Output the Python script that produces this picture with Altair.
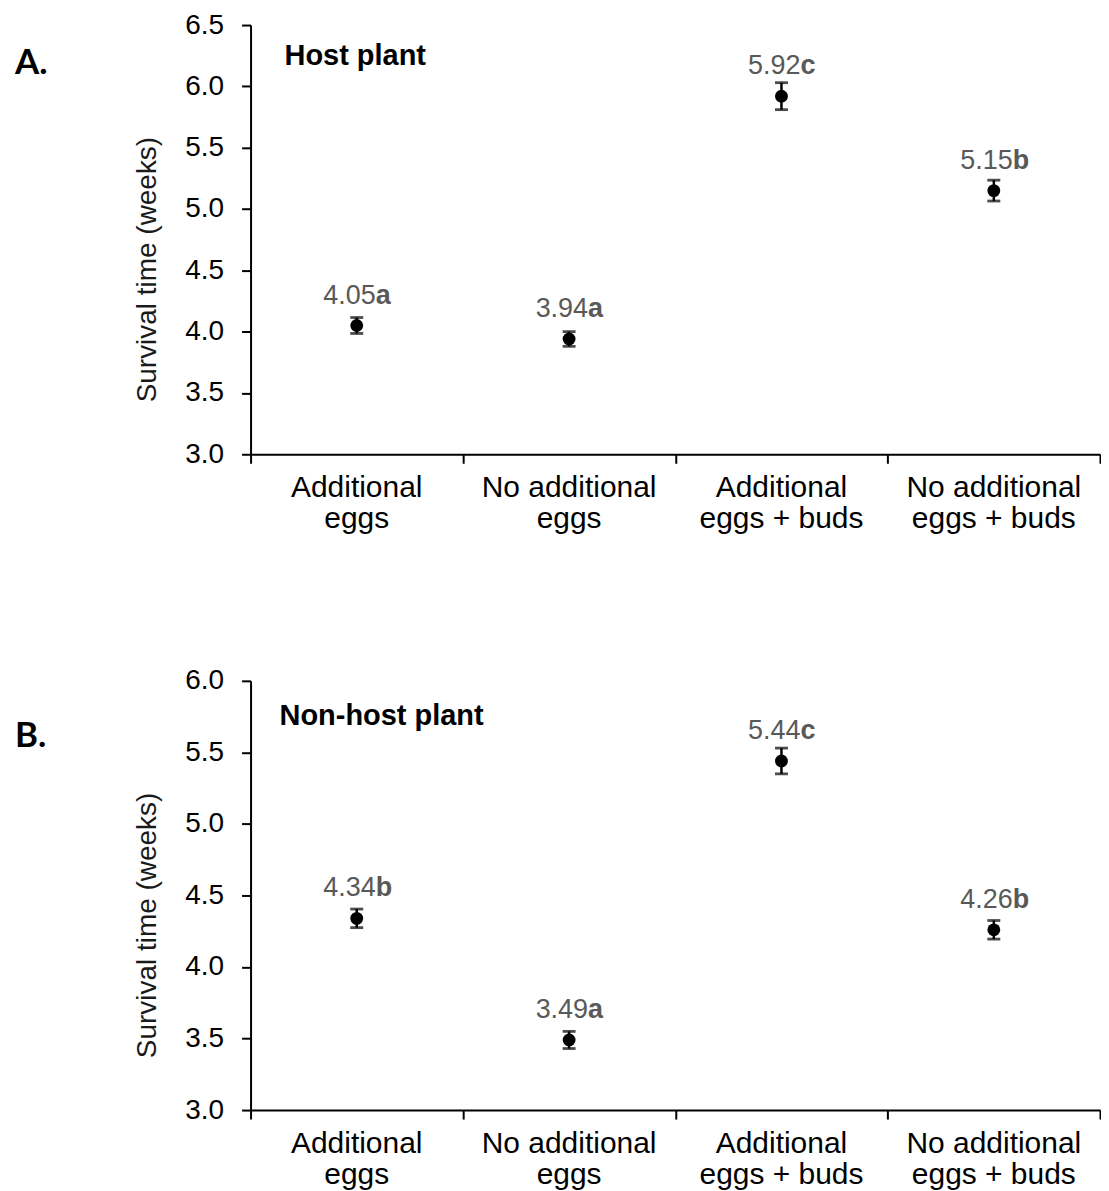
import altair as alt
import pandas as pd

categories = ["Additional eggs", "No additional eggs",
              "Additional eggs + buds", "No additional eggs + buds"]
label_line1 = ["Additional", "No additional", "Additional", "No additional"]
label_line2 = ["eggs", "eggs", "eggs + buds", "eggs + buds"]

host_means = [4.05, 3.94, 5.92, 5.15]
host_errs = [0.065, 0.06, 0.11, 0.085]
host_letters = ["a", "a", "c", "b"]
host_ticks = [3.0, 3.5, 4.0, 4.5, 5.0, 5.5, 6.0, 6.5]

nonhost_means = [4.34, 3.49, 5.44, 4.26]
nonhost_errs = [0.065, 0.06, 0.09, 0.065]
nonhost_letters = ["b", "a", "c", "b"]
nonhost_ticks = [3.0, 3.5, 4.0, 4.5, 5.0, 5.5, 6.0]

y_title = "Survival time (weeks)"

FONT = "Liberation Sans"
W, H = 851, 430


def panel(means, errs, letters, ticks, title, tag, title_pos, tag_y, line_h):
    df = pd.DataFrame({"cat": categories, "mean": means, "err": errs, "letter": letters,
                       "l1": label_line1, "l2": label_line2})
    df["lo"] = df["mean"] - df["err"]
    df["hi"] = df["mean"] + df["err"]
    df["num"] = [f"{m:.2f}" for m in means]

    xaxis = alt.Axis(
        title=None, labels=False, tickSize=9, tickWidth=2,
        tickColor="black", domainColor="black", domainWidth=2, tickBand="extent",
        grid=False,
    )
    xenc = alt.X("cat:N", sort=categories,
                 scale=alt.Scale(type="band", paddingInner=0, paddingOuter=0), axis=xaxis)
    yscale = alt.Scale(domain=[ticks[0], ticks[-1]], nice=False, zero=False)
    yaxis = alt.Axis(
        values=ticks, format=".1f", title=None, grid=False,
        labelFontSize=28, labelFont=FONT, labelColor="black", labelPadding=18,
        tickSize=9, tickWidth=2, tickColor="black", domainColor="black", domainWidth=2,
    )

    base = alt.Chart(df)
    rule = base.mark_rule(color="black", strokeWidth=2.5).encode(
        x=xenc, y=alt.Y("lo:Q", scale=yscale, axis=yaxis), y2="hi:Q")
    cap_lo = base.mark_tick(color="black", size=13, thickness=2.8).encode(
        x=xenc, y=alt.Y("lo:Q", scale=yscale, axis=yaxis))
    cap_hi = base.mark_tick(color="black", size=13, thickness=2.8).encode(
        x=xenc, y=alt.Y("hi:Q", scale=yscale, axis=yaxis))
    pts = base.mark_circle(color="black", size=165, opacity=1).encode(
        x=xenc, y=alt.Y("mean:Q", scale=yscale, axis=yaxis))
    num = base.mark_text(align="right", baseline="alphabetic", dx=19, dy=-22,
                         fontSize=27, font=FONT, color="#595959").encode(
        x=xenc, y=alt.Y("mean:Q", scale=yscale, axis=yaxis), text="num:N")
    let = base.mark_text(align="left", baseline="alphabetic", dx=19, dy=-22,
                         fontSize=27, font=FONT, fontWeight="bold", color="#595959").encode(
        x=xenc, y=alt.Y("mean:Q", scale=yscale, axis=yaxis), text="letter:N")
    lab1 = base.mark_text(align="center", baseline="alphabetic", fontSize=30, font=FONT,
                          color="black").encode(x=xenc, y=alt.value(H + 43), text="l1:N")
    lab2 = base.mark_text(align="center", baseline="alphabetic", fontSize=30, font=FONT,
                          color="black").encode(x=xenc, y=alt.value(H + 43 + line_h), text="l2:N")

    ttl = alt.Chart(pd.DataFrame({"t": [title]})).mark_text(
        align="left", baseline="alphabetic", fontSize=29, font=FONT,
        fontWeight="bold", color="black").encode(
        text="t:N", x=alt.value(title_pos[0]), y=alt.value(title_pos[1]))
    tg = alt.Chart(pd.DataFrame({"t": [tag]})).mark_text(
        align="left", baseline="alphabetic", fontSize=35, font="Lato",
        fontWeight="bold", color="black").encode(
        text="t:N", x=alt.value(-236), y=alt.value(tag_y))
    yt = alt.Chart(pd.DataFrame({"t": [y_title]})).mark_text(
        align="center", baseline="bottom", angle=270, fontSize=28, font=FONT,
        color="#1a1a1a").encode(
        text="t:N", x=alt.value(-89), y=alt.value(245))

    return alt.layer(rule, cap_lo, cap_hi, pts, num, let, lab1, lab2, ttl, tg, yt).properties(
        width=W, height=H)


a = panel(host_means, host_errs, host_letters, host_ticks, "Host plant", "A.", (34, 40), 49, 31)
b = panel(nonhost_means, nonhost_errs, nonhost_letters, nonhost_ticks, "Non-host plant", "B.", (29, 44), 66, 31)

chart = alt.vconcat(a, b, spacing=133).properties(
    padding={"left": 7, "top": 2, "right": 0, "bottom": 0}
).configure_view(strokeWidth=0)

chart.save("out.html", embed_options={"renderer": "svg", "actions": False})
